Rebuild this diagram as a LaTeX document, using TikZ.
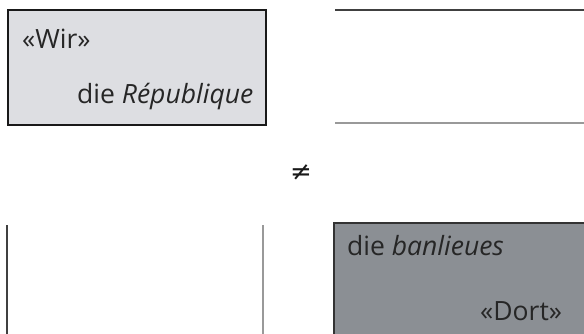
\documentclass[tikz,border=0pt]{standalone}
\usepackage{fontspec}
\setmainfont{Open Sans}
\newfontfamily\symfont{DejaVu Sans}
\newcommand{\lblfont}{\fontsize{26.5bp}{30bp}\selectfont}
\begin{document}
\begin{tikzpicture}[x=1bp,y=-1bp,
  lbl/.style={inner sep=0pt,anchor=base west,text=black!85},
  lightbox/.style={draw=black!90,line width=2.4bp,fill=boxlight},
  darkbox/.style={draw=black!80,line width=1.5bp,fill=boxdark},
  darkline/.style={draw=black!75,line width=1.1bp},
  greyline/.style={draw=black!40,line width=1.4bp}]
\definecolor{boxlight}{HTML}{DDDEE2}
\definecolor{boxdark}{HTML}{8B8F94}
\useasboundingbox (0,0) rectangle (584,333);
\begin{scope}
\clip (0,0) rectangle (584,333);
% top-left box
\node[lightbox,minimum width=258bp,minimum height=115bp,anchor=north west,inner sep=0pt] (wirbox) at (7,9) {};
\node[lbl] (wir) at (22,48) {\lblfont «Wir»};
\node[lbl] (rep) at (77,103) {\lblfont die \textit{République}};
% top-right lines
\coordinate (tra) at (335,10);
\coordinate (trb) at (590,10);
\coordinate (trc) at (335,123);
\coordinate (trd) at (590,123);
\draw[darkline] (tra) -- (trb);
\draw[greyline] (trc) -- (trd);
% not equal
\node[inner sep=0pt,text=black!90] (neq) at (301,173) {\symfont\fontsize{26bp}{30bp}\selectfont ≠};
% bottom-left lines
\coordinate (bla) at (7,225);
\coordinate (blb) at (7,340);
\coordinate (blc) at (263,225);
\coordinate (bld) at (263,340);
\draw[darkline] (bla) -- (blb);
\draw[greyline] (blc) -- (bld);
% bottom-right box
\node[darkbox,minimum width=270bp,minimum height=130bp,anchor=north west,inner sep=0pt] (dortbox) at (333,222) {};
\node[lbl] (ban) at (347,255) {\lblfont die \textit{banlieues}};
\node[lbl] (dort) at (480,320) {\lblfont «Dort»};
\end{scope}
\end{tikzpicture}
\end{document}
